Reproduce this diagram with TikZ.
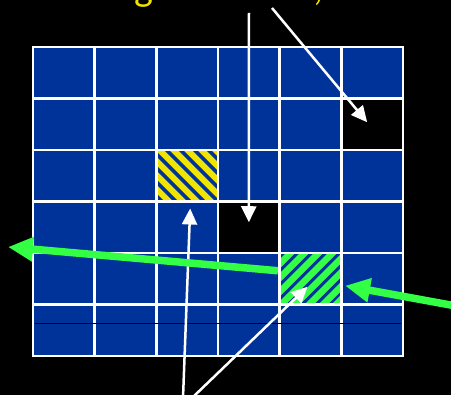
\documentclass[tikz,border=0pt]{standalone}
\usepackage{fontspec}
\setmainfont{Carlito}
\usetikzlibrary{arrows.meta,patterns.meta}

\definecolor{gridblue}{RGB}{0,51,153}
\definecolor{hatchyellow}{RGB}{240,228,0}
\definecolor{brightgreen}{RGB}{51,255,68}

\tikzset{
  cell/.style={draw=white, line width=2.5pt, inner sep=0pt,
    minimum width=61.667pt, minimum height=51.5pt},
  whitearrow/.style={draw=white, line width=2.5pt,
    -{Triangle[length=16pt,width=15pt]}},
  greenarrow/.style={draw=brightgreen, line width=7.5pt,
    -{Triangle[length=25pt,width=23pt]}},
  topword/.style={text=hatchyellow, font=\fontsize{40}{44}\selectfont,
    inner sep=0pt, anchor=base}
}

\begin{document}
\begin{tikzpicture}[x=1pt,y=-1pt]
  \fill[black] (0,0) rectangle (451,395);
  \useasboundingbox (0,0) rectangle (451,395);

  % cut-off heading
  \node[topword] (wordg) at (144,1) {g};
  \node[topword] (comma) at (318,1) {,};

  % 6x6 board
  \foreach \i in {1,...,6}
    \foreach \j in {1,...,6}
      \node[cell, fill=gridblue] (c\i\j) at ({33+(\i-0.5)*61.667},{47+(\j-0.5)*51.5}) {};

  % marked cells
  \node[cell, fill=black] (blackA) at (c44) {};
  \node[cell, fill=black] (blackB) at (c62) {};
  \node[cell, preaction={fill=hatchyellow},
        pattern={Lines[angle=-45,distance=10.5pt,line width=4pt]},
        pattern color=gridblue] (yellowcell) at (c33) {};
  \node[cell, preaction={fill=brightgreen},
        pattern={Lines[angle=45,distance=10.5pt,line width=3.5pt]},
        pattern color=gridblue] (greencell) at (c55) {};

  \draw[black, line width=1pt] (35,324) -- (401,324);

  % pointers from above
  \coordinate (topA) at (249,13);
  \coordinate (topB) at (272,8);
  \draw[whitearrow] (topA) -- ([yshift=5pt]blackA.center);
  \draw[whitearrow] (topB) -- ([shift={(-5pt,2pt)}]blackB.center);

  % pointers from below
  \coordinate (botA) at (183,398);
  \coordinate (botB) at (192,398);
  \draw[whitearrow] (botA) -- ([shift={(3pt,-5pt)}]yellowcell.south);
  \draw[whitearrow] (botB) -- ([shift={(-3pt,-8pt)}]greencell.center);

  % green motion
  \coordinate (inR) at (456,306);
  \coordinate (outL) at (8,247);
  \draw[greenarrow] (inR) -- ([shift={(2pt,-7pt)}]greencell.east);
  \draw[greenarrow] ([yshift=8pt]greencell.west) -- (outL);
\end{tikzpicture}
\end{document}
